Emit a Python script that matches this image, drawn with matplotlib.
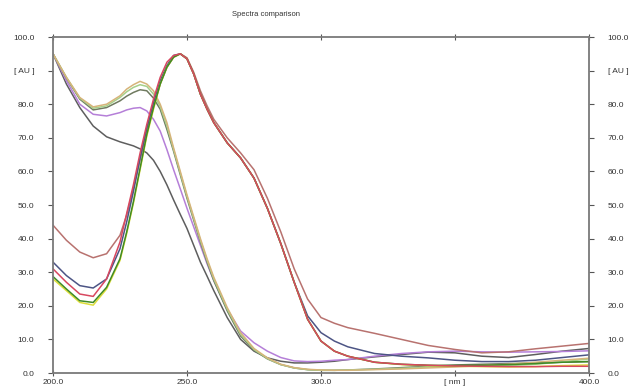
import matplotlib
matplotlib.use('Agg')
import matplotlib.pyplot as plt

# wavelengths [nm]
wl = [200, 205, 210, 215, 220, 225, 227.5, 230, 232.5, 235, 237.5, 240, 242.5, 245, 247.5,
      250, 252.5, 255, 257.5, 260, 265, 270, 275, 280, 285, 290, 295, 300, 305, 310,
      320, 330, 340, 350, 360, 370, 380, 390, 400]

# group peaking near 247 nm
brown = [44, 39.5, 36, 34.3, 35.5, 41, 47, 55, 63.5, 72, 79.5, 86, 91, 94, 95,
         93.8, 89.5, 84, 79.5, 75.5, 70, 65.5, 60.5, 52, 42, 31, 22, 16.5, 14.8, 13.5,
         11.8, 10, 8.2, 7, 6, 6.3, 7.2, 8, 8.8]
blue = [33, 29, 26, 25.3, 28, 37, 45, 54, 64, 73, 80.5, 87, 91.5, 94.5, 95,
        93.5, 89, 83, 78.5, 74.5, 68.5, 64, 58, 49, 38.5, 27, 17, 12, 9.5, 7.8,
        5.8, 5, 4.5, 3.8, 3.4, 3.4, 3.8, 4.6, 5.4]
red = [31, 27, 23.5, 22.8, 28, 39, 47.5, 56, 65.5, 74, 81.5, 88, 92.5, 94.5, 95,
       93.5, 89, 83, 78.5, 74.5, 68.5, 64, 58, 49, 38.5, 27, 16, 9.5, 6.5, 5,
       3.2, 2.6, 2.3, 2.1, 2, 1.9, 1.9, 2, 2]
green = [28.7, 25, 21.5, 21, 25.5, 34, 42, 51, 61, 71, 79, 86, 91, 94, 95,
         93.5, 89, 83, 78.5, 74.5, 68.5, 64, 58, 49, 38.5, 27, 16, 9.5, 6.5, 5,
         3.2, 2.6, 2.3, 2.2, 2.3, 2.5, 2.8, 3.2, 3.4]
yellow = [28, 24.5, 21, 20.2, 25, 33.5, 41.5, 50.5, 60.5, 70.5, 78.5, 86, 91, 94, 95,
          93.5, 89, 83, 78.5, 74.5, 68.5, 64, 58, 49, 38.5, 27, 16, 9.5, 6.5, 5,
          3.2, 2.5, 2.2, 2, 1.9, 1.8, 1.9, 2.2, 2.4]

# group peaking near 233 nm
tan = [95, 88, 82, 79.2, 80, 82.5, 84.5, 85.8, 86.8, 86, 84, 80, 74.5, 67, 60,
       53, 46.5, 40, 34, 28.5, 19.5, 12, 7.3, 4.5, 2.6, 1.6, 1.1, 0.9, 0.8, 0.8,
       1, 1.2, 1.5, 1.8, 2.2, 2.6, 3.2, 3.8, 4.4]
lgreen = [95, 88, 81.8, 78.8, 79.5, 82, 83.7, 85, 85.8, 85.3, 83, 79.3, 73.5, 66.5, 59.5,
          52.5, 46, 39.5, 33.5, 28, 19, 11.5, 7, 4.3, 2.5, 1.5, 1, 0.8, 0.8, 0.9,
          1.1, 1.4, 1.8, 2, 2.1, 2.2, 2.6, 3.3, 4.2]
gray = [95, 87.8, 81.5, 78.3, 79, 81, 82.4, 83.5, 84.3, 84, 81.8, 78.5, 72.5, 66, 59,
        52, 45.5, 39, 33, 27.5, 18.5, 11, 6.8, 4.2, 2.5, 1.5, 1, 0.8, 0.8, 0.9,
        1.2, 1.6, 2, 2.4, 2.6, 2.8, 3, 3.2, 3.4]
purple = [95, 87, 80, 77, 76.5, 77.5, 78.3, 78.8, 79, 78, 75.5, 72, 66.5, 60.5, 54.8,
          49, 43.5, 38, 32.5, 27.5, 19, 12.5, 9, 6.5, 4.6, 3.6, 3.4, 3.5, 3.8, 4,
          5, 5.8, 6.3, 6.5, 6.3, 6.2, 6.3, 6.4, 6.6]
dgray = [95, 86, 79, 73.5, 70.3, 68.8, 68.2, 67.6, 66.7, 65.5, 63.3, 60, 56, 51.5, 47.2,
         43, 38, 33, 28.8, 24.5, 16.5, 10, 6.5, 4.5, 3.5, 3, 3, 3.2, 3.5, 4,
         4.8, 5.5, 6.2, 6, 5, 4.6, 5.5, 6.5, 7.3]

series = [
    (dgray, '#5e5e5e'),
    (purple, '#b57fd8'),
    (gray, '#6f7a5f'),
    (lgreen, '#a6d08a'),
    (tan, '#d6b47a'),
    (brown, '#b8726f'),
    (blue, '#4d5585'),
    (yellow, '#dede3a'),
    (green, '#3f8a25'),
    (red, '#d84860'),
]

y_ticks = [0, 10, 20, 30, 40, 50, 60, 70, 80, 90, 100]
y_labels = ['0.0', '10.0', '20.0', '30.0', '40.0', '50.0', '60.0', '70.0', '80.0', '[ AU ]', '100.0']
x_ticks = [200, 250, 300, 350, 400]
x_labels = ['200.0', '250.0', '300.0', '[ nm ]', '400.0']

plt.rcParams['font.family'] = ['Liberation Sans', 'DejaVu Sans']

fig = plt.figure(figsize=(6.33, 3.9), dpi=100)
ax = fig.add_axes([53 / 633, 17 / 390, 536 / 633, 336 / 390])

for values, color in series:
    ax.plot(wl, values, color=color, linewidth=1.1)

ax.set_xlim(200, 400)
ax.set_ylim(0, 100)
ax.set_xticks(x_ticks)
ax.set_xticklabels(x_labels)
ax.set_yticks(y_ticks)
ax.set_yticklabels(y_labels)

for spine in ax.spines.values():
    spine.set_color('#7a7a7a')
    spine.set_linewidth(1.3)

ax.tick_params(axis='y', left=True, right=True, labelleft=True, labelright=True,
               direction='out', length=3.5, width=0.8, color='#555555',
               labelsize=6, labelcolor='#333333', pad=10)
ax.tick_params(axis='x', bottom=True, top=True, direction='inout', length=4, width=0.8,
               color='#555555', labelsize=6, labelcolor='#333333', pad=2)

fig.text(266 / 633, 1 - 15 / 390, 'Spectra comparison', fontsize=5.5, color='#333333',
         ha='center', va='center')

fig.savefig('out.png', dpi=100)
